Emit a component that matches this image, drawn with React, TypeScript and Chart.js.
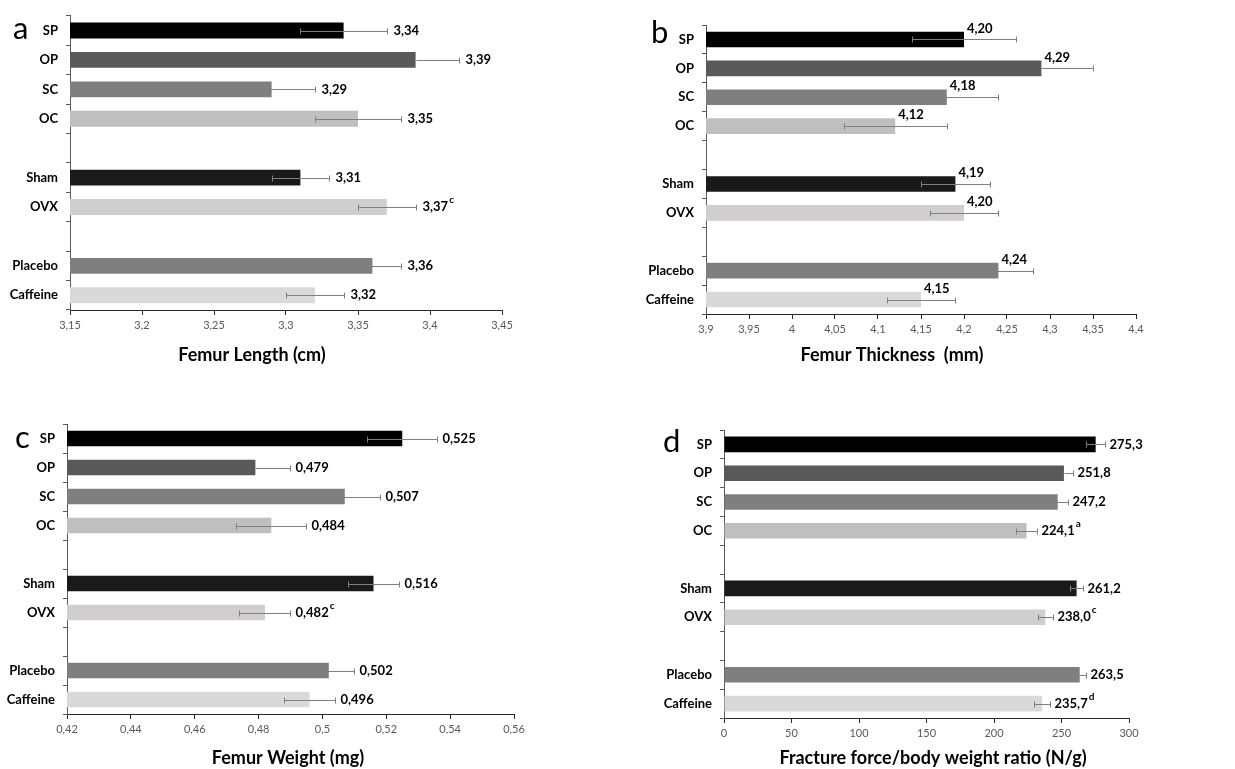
import React, { useEffect, useRef } from "react";
import { Chart, registerables } from "chart.js";

Chart.register(...registerables);

const categories = ["SP", "OP", "SC", "OC", "", "Sham", "OVX", "", "Placebo", "Caffeine"];
const barColors = ["#000000", "#595959", "#7f7f7f", "#bfbfbf", "#ffffff", "#1a1a1a", "#d0cece", "#ffffff", "#7f7f7f", "#d9d9d9"];

// a: Femur length (cm)
const lengthValues = [3.34, 3.39, 3.29, 3.35, null, 3.31, 3.37, null, 3.36, 3.32];
const lengthErrMinus = [0.03, 0, 0.03, 0.03, null, 0.02, 0.02, null, 0.02, 0.02];
const lengthErrPlus = [0.03, 0.03, 0.03, 0.03, null, 0.02, 0.02, null, 0.02, 0.02];
const lengthSup = ["", "", "", "", "", "", "c", "", "", ""];

// b: Femur thickness (mm)
const thicknessValues = [4.2, 4.29, 4.18, 4.12, null, 4.19, 4.2, null, 4.24, 4.15];
const thicknessErrMinus = [0.06, 0, 0.06, 0.06, null, 0.04, 0.04, null, 0.04, 0.04];
const thicknessErrPlus = [0.06, 0.06, 0.06, 0.06, null, 0.04, 0.04, null, 0.04, 0.04];
const thicknessSup = ["", "", "", "", "", "", "", "", "", ""];

// c: Femur weight (mg)
const weightValues = [0.525, 0.479, 0.507, 0.484, null, 0.516, 0.482, null, 0.502, 0.496];
const weightErrMinus = [0.011, 0, 0.011, 0.011, null, 0.008, 0.008, null, 0.008, 0.008];
const weightErrPlus = [0.011, 0.011, 0.011, 0.011, null, 0.008, 0.008, null, 0.008, 0.008];
const weightSup = ["", "", "", "", "", "", "c", "", "", ""];

// d: Fracture force / body weight ratio (N/g)
const forceValues = [275.3, 251.8, 247.2, 224.1, null, 261.2, 238.0, null, 263.5, 235.7];
const forceErrMinus = [7.5, 0, 7.5, 7.5, null, 5, 5.5, null, 5.5, 6];
const forceErrPlus = [7, 7, 7.5, 7.5, null, 5, 5.5, null, 5, 6];
const forceSup = ["", "", "", "a", "", "", "c", "", "", "d"];

type PanelCfg = {
  letter: string;
  letterX: number;
  letterY: number;
  left: number;
  top: number;
  w: number;
  h: number;
  area: { left: number; top: number; right: number; bottom: number };
  min: number;
  max: number;
  step: number;
  title: string;
  titleX: number;
  titleOffset: number;
  values: (number | null)[];
  errMinus: (number | null)[];
  errPlus: (number | null)[];
  sup: string[];
  decimals: number;
  mode: "right" | "above";
  gap: number;
};

const panels: PanelCfg[] = [
  {
    letter: "a", letterX: 13, letterY: 39,
    left: 0, top: 0, w: 617, h: 385,
    area: { left: 70, top: 14, right: 502, bottom: 310 },
    min: 3.15, max: 3.45, step: 0.05,
    title: "Femur Length (cm)", titleX: 252, titleOffset: 45,
    values: lengthValues, errMinus: lengthErrMinus, errPlus: lengthErrPlus, sup: lengthSup,
    decimals: 2, mode: "right", gap: 6,
  },
  {
    letter: "b", letterX: 34, letterY: 43,
    left: 617, top: 0, w: 618, h: 385,
    area: { left: 89, top: 25, right: 519, bottom: 314 },
    min: 3.9, max: 4.4, step: 0.05,
    title: "Femur Thickness  (mm)", titleX: 275, titleOffset: 41,
    values: thicknessValues, errMinus: thicknessErrMinus, errPlus: thicknessErrPlus, sup: thicknessSup,
    decimals: 2, mode: "above", gap: 3,
  },
  {
    letter: "c", letterX: 15, letterY: 63,
    left: 0, top: 385, w: 617, h: 384,
    area: { left: 67, top: 39, right: 514, bottom: 329 },
    min: 0.42, max: 0.56, step: 0.02,
    title: "Femur Weight (mg)", titleX: 288, titleOffset: 44,
    values: weightValues, errMinus: weightErrMinus, errPlus: weightErrPlus, sup: weightSup,
    decimals: 3, mode: "right", gap: 5,
  },
  {
    letter: "d", letterX: 46, letterY: 67,
    left: 617, top: 385, w: 618, h: 384,
    area: { left: 107, top: 45, right: 512, bottom: 333 },
    min: 0, max: 300, step: 50,
    title: "Fracture force/body weight ratio (N/g)", titleX: 316, titleOffset: 40,
    values: forceValues, errMinus: forceErrMinus, errPlus: forceErrPlus, sup: forceSup,
    decimals: 1, mode: "right", gap: 4,
  },
];

const FONT = "Lato, 'Open Sans', sans-serif";

const overlayPlugin = {
  id: "overlay",
  afterDatasetsDraw(chart: any, _args: any, opts: any) {
    const p: PanelCfg = opts.cfg;
    if (!p) return;
    const { ctx } = chart;
    const xs = chart.scales.x;
    const meta = chart.getDatasetMeta(0);
    ctx.save();
    meta.data.forEach((bar: any, i: number) => {
      const v = p.values[i];
      if (v == null) return;
      const y = Math.round(bar.y) + 0.5;
      const em = p.errMinus[i] || 0;
      const ep = p.errPlus[i] || 0;
      const lo = Math.round(xs.getPixelForValue(v - em)) + 0.5;
      const hi = Math.round(xs.getPixelForValue(v + ep)) + 0.5;
      ctx.strokeStyle = "#7f7f7f";
      ctx.lineWidth = 1;
      ctx.beginPath();
      ctx.moveTo(lo, y);
      ctx.lineTo(hi, y);
      if (em > 0) {
        ctx.moveTo(lo, y - 3);
        ctx.lineTo(lo, y + 3);
      }
      ctx.moveTo(hi, y - 3);
      ctx.lineTo(hi, y + 3);
      ctx.stroke();

      const text = v.toFixed(p.decimals).replace(".", ",");
      ctx.fillStyle = "#000";
      ctx.font = `bold 13px ${FONT}`;
      let tx: number;
      let ty: number;
      if (p.mode === "above") {
        tx = xs.getPixelForValue(v) + p.gap;
        ty = bar.y - bar.height / 2 + 1;
        ctx.textBaseline = "alphabetic";
      } else {
        tx = hi + p.gap;
        ty = bar.y;
        ctx.textBaseline = "middle";
      }
      ctx.textAlign = "left";
      ctx.fillText(text, tx, ty);
      if (p.sup[i]) {
        const wdt = ctx.measureText(text).width;
        ctx.font = `bold 10px ${FONT}`;
        ctx.fillText(p.sup[i], tx + wdt + 1, ty - 7);
      }
    });
    // panel letter
    ctx.fillStyle = "#000";
    ctx.font = `31px ${FONT}`;
    ctx.textAlign = "left";
    ctx.textBaseline = "alphabetic";
    ctx.fillText(p.letter, p.letterX, p.letterY);
    // axis title
    ctx.font = `bold 18px ${FONT}`;
    ctx.textAlign = "center";
    ctx.textBaseline = "middle";
    ctx.fillText(p.title, p.titleX, chart.chartArea.bottom + p.titleOffset);
    ctx.restore();
  },
};

function fmt(v: number) {
  return String(Math.round(v * 1000) / 1000).replace(".", ",");
}

function Panel({ cfg }: { cfg: PanelCfg }) {
  const ref = useRef<HTMLCanvasElement | null>(null);
  useEffect(() => {
    if (!ref.current) return;
    const xh = cfg.titleOffset + 11;
    const bottomPad = cfg.h - cfg.area.bottom - xh;
    const chart = new Chart(ref.current, {
      type: "bar",
      data: {
        labels: categories,
        datasets: [
          {
            data: cfg.values as any,
            backgroundColor: barColors,
            borderWidth: 0,
            barPercentage: 0.54,
            categoryPercentage: 1,
          },
        ],
      },
      options: {
        indexAxis: "y",
        responsive: false,
        animation: false,
        events: [],
        layout: {
          padding: {
            left: 0,
            top: cfg.area.top,
            right: cfg.w - cfg.area.right,
            bottom: bottomPad,
          },
        },
        plugins: {
          legend: { display: false },
          tooltip: { enabled: false },
          overlay: { cfg },
        } as any,
        scales: {
          x: {
            type: "linear",
            min: cfg.min,
            max: cfg.max,
            ticks: {
              stepSize: cfg.step,
              color: "#595959",
              font: { family: FONT, size: 11 },
              padding: 4,
              callback: (v: any) => fmt(Number(v)),
            },
            grid: { drawOnChartArea: false, drawTicks: true, tickLength: 5, color: "#262626" },
            border: { display: true, color: "#262626", width: 1 },
            title: { display: false },
            afterFit: (s: any) => {
              s.height = xh;
            },
          },
          y: {
            type: "category",
            grid: { offset: true, drawOnChartArea: false, drawTicks: true, tickLength: 4, color: "#595959" },
            border: { display: true, color: "#595959", width: 1 },
            ticks: {
              autoSkip: false,
              color: "#000",
              padding: 8,
              font: { family: FONT, size: 13, weight: "bold" },
            },
            afterFit: (s: any) => {
              s.width = cfg.area.left;
            },
          },
        },
      },
      plugins: [overlayPlugin],
    } as any);
    return () => chart.destroy();
  }, [cfg]);
  return (
    <canvas
      ref={ref}
      width={cfg.w}
      height={cfg.h}
      style={{ position: "absolute", left: cfg.left, top: cfg.top, width: cfg.w, height: cfg.h }}
    />
  );
}

export default function App() {
  return (
    <div style={{ position: "absolute", left: 0, top: 0, width: 1235, height: 769, background: "#fff", overflow: "hidden" }}>
      {panels.map((p) => (
        <Panel key={p.letter} cfg={p} />
      ))}
    </div>
  );
}
